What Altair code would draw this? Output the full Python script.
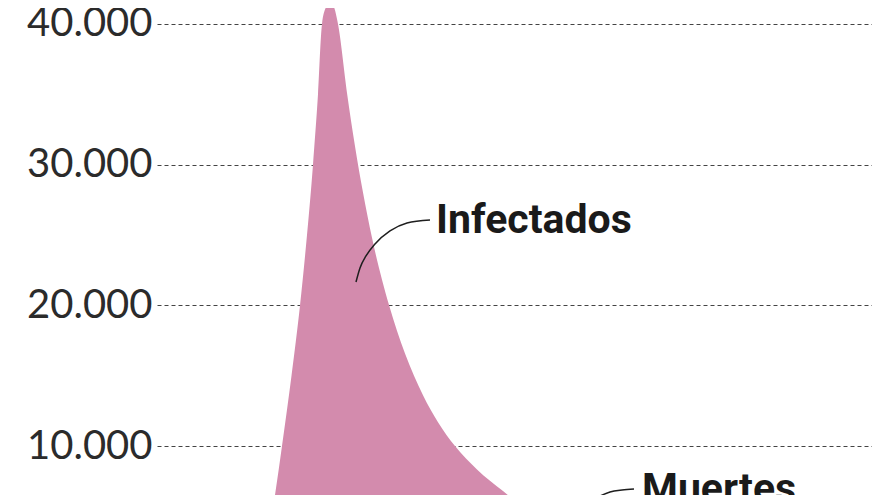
import altair as alt
import pandas as pd

# Area series (infected)
days = [19.0, 20.9, 22.0, 23.6, 25.0, 26.9, 28.6, 30.0, 31.2, 32.2, 33.0, 33.8, 34.6, 35.4,
        36.2, 38.0, 39.6, 41.2, 43.0, 45.0, 46.4, 49.6, 53.2, 56.2, 59.6, 64.0, 69.2,
        76.6, 88.6, 104.6, 124.6, 143.0]
infected = [100, 500, 3000, 6520, 10000, 15000, 20000, 25000, 30000, 35000, 40000, 41200, 41560, 41200,
            40000, 35090, 31310, 28020, 24800, 21820, 20030, 16580, 13620, 11700, 10000, 8340, 6800,
            4800, 3000, 1700, 900, 500]

y_ticks = [10000, 20000, 30000, 40000]

# Annotation labels
label_text = ["Infectados", "Muertes"]
label_day = [55.8, 97.0]
label_val = [25146, 6027]

# Leader lines
lead1_day = [39.8, 40.6, 41.8, 43.6, 46.6, 50.0, 54.6]
lead1_val = [21663, 22658, 23511, 24364, 25288, 25856, 26070]
lead2_day = [88.2, 90.6, 93.0, 95.4]
lead2_val = [6382, 6738, 6880, 6951]

df = pd.DataFrame({"day": days, "val": infected})
labels = pd.DataFrame({"t": label_text, "day": label_day, "val": label_val})
l1 = pd.DataFrame({"day": lead1_day, "val": lead1_val, "k": "a"})
l2 = pd.DataFrame({"day": lead2_day, "val": lead2_val, "k": "b"})

xs = alt.Scale(domain=[0, 143], nice=False, zero=False)
ys = alt.Scale(domain=[6524, 41137], nice=False, zero=False)

area = alt.Chart(df).mark_area(color="#d38bad", interpolate="monotone", clip=True).encode(
    x=alt.X("day:Q", scale=xs, axis=None),
    y=alt.Y("val:Q", scale=ys, axis=alt.Axis(
        values=y_ticks, title=None, domain=False, ticks=False,
        labelExpr="replace(format(datum.value, ','), ',', '.')",
        labelFont="Lato", labelFontSize=40, labelColor="#2b2b2b", labelPadding=5,
        grid=True, gridColor="#444444", gridDash=[4, 3], gridWidth=1,
        labelBaseline="middle")),
)

lines = alt.Chart(pd.concat([l1, l2])).mark_line(
    color="#1e1e1e", strokeWidth=1.5, interpolate="monotone").encode(
    x=alt.X("day:Q", scale=xs),
    y=alt.Y("val:Q", scale=ys),
    detail="k:N",
)

text = alt.Chart(labels).mark_text(
    align="left", baseline="alphabetic", fontSize=41, fontWeight="bold",
    font="Roboto, sans-serif", color="#1a1a1a").encode(
    x=alt.X("day:Q", scale=xs),
    y=alt.Y("val:Q", scale=ys),
    text="t:N",
)

chart = alt.layer(area, lines, text).properties(
    width=715, height=487,
    autosize=alt.AutoSizeParams(type="none"),
    padding={"left": 149, "top": 0, "right": 0, "bottom": 0},
).configure_view(stroke=None)

chart.save("out.html", embed_options={"renderer": "svg", "actions": False})
